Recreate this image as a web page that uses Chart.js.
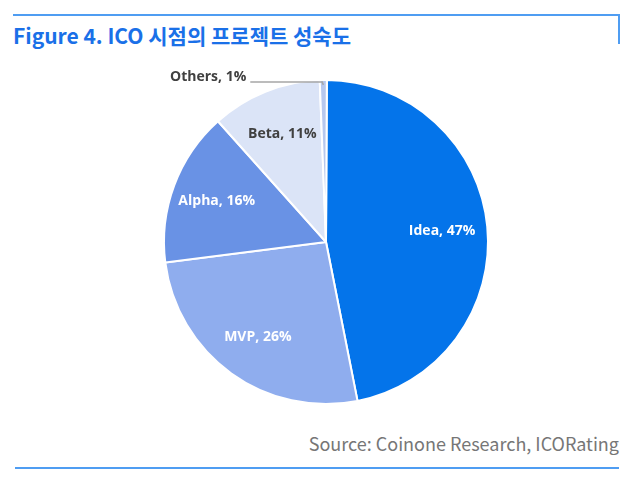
<!DOCTYPE html>
<html>
<head>
<meta charset="utf-8">
<script src="https://cdn.jsdelivr.net/npm/chart.js@4"></script>
<style>
  body { margin: 0; background: #fff; width: 640px; height: 485px; position: relative; overflow: hidden; }
  .rule { position: absolute; background: #4f9df2; }
  #title { position: absolute; left: 13px; top: 20px; font-family: "Noto Sans CJK KR", sans-serif; font-weight: 700; font-size: 21px; color: #1a70e8; white-space: nowrap; }
  #source { position: absolute; right: 21px; top: 430px; font-family: "Noto Sans CJK KR", sans-serif; font-size: 18px; color: #767676; white-space: nowrap; }
  #wrap { position: absolute; left: 154px; top: 70px; width: 344px; height: 344px; }
</style>
</head>
<body>
<div class="rule" style="left:13px; top:14px; width:607px; height:2px;"></div>
<div class="rule" style="left:618px; top:14px; width:2px; height:30px;"></div>
<div id="title">Figure 4. ICO 시점의 프로젝트 성숙도</div>
<div id="wrap"><canvas id="pie"></canvas></div>
<div id="source">Source: Coinone Research, ICORating</div>
<div class="rule" style="left:15px; top:467px; width:604px; height:2px;"></div>

<script>
// stages and their share of projects (%)
const stages = ["Idea", "MVP", "Alpha", "Beta", "Others"];
const shares = [46.8, 26.1, 15.4, 11.0, 0.7];
const shareLabels = ["47%", "26%", "16%", "11%", "1%"];

const sliceColors = ["#0474ea", "#8fadee", "#6992e5", "#dbe4f7", "#b7c8ee"];
const labelColors = ["#ffffff", "#ffffff", "#ffffff", "#404040", "#404040"];

// draws "Name, xx%" inside each slice, Others outside with a leader line
const sliceLabels = {
  id: "sliceLabels",
  afterDatasetsDraw(chart) {
    const ctx = chart.ctx;
    const arcs = chart.getDatasetMeta(0).data;
    ctx.save();
    ctx.font = "bold 14px 'Open Sans', sans-serif";
    ctx.textBaseline = "middle";
    arcs.forEach((arc, i) => {
      const { x, y, startAngle, endAngle, outerRadius } = arc.getProps(["x", "y", "startAngle", "endAngle", "outerRadius"], true);
      const mid = (startAngle + endAngle) / 2;
      const text = stages[i] + ", " + shareLabels[i];
      if (stages[i] === "Others") {
        const px = x + Math.cos(mid) * outerRadius;
        const py = y + Math.sin(mid) * outerRadius;
        ctx.strokeStyle = "#a6a6a6";
        ctx.lineWidth = 1.5;
        ctx.beginPath();
        ctx.moveTo(px - 73, py + 2);
        ctx.lineTo(px - 1, py + 2);
        ctx.lineTo(px, py + 5);
        ctx.stroke();
        ctx.fillStyle = labelColors[i];
        ctx.textAlign = "right";
        ctx.fillText(text, px - 77, py - 3);
      } else {
        const r = outerRadius * 0.72;
        ctx.fillStyle = labelColors[i];
        ctx.textAlign = "center";
        ctx.fillText(text, x + Math.cos(mid) * r, y + Math.sin(mid) * r);
      }
    });
    ctx.restore();
  }
};

new Chart(document.getElementById("pie"), {
  type: "pie",
  data: {
    labels: stages,
    datasets: [{
      data: shares,
      backgroundColor: sliceColors,
      borderColor: "#ffffff",
      borderWidth: 2
    }]
  },
  options: {
    responsive: true,
    maintainAspectRatio: false,
    animation: false,
    rotation: 0.3,
    layout: { padding: 9 },
    plugins: {
      legend: { display: false },
      tooltip: { enabled: false }
    }
  },
  plugins: [sliceLabels]
});
</script>
</body>
</html>
